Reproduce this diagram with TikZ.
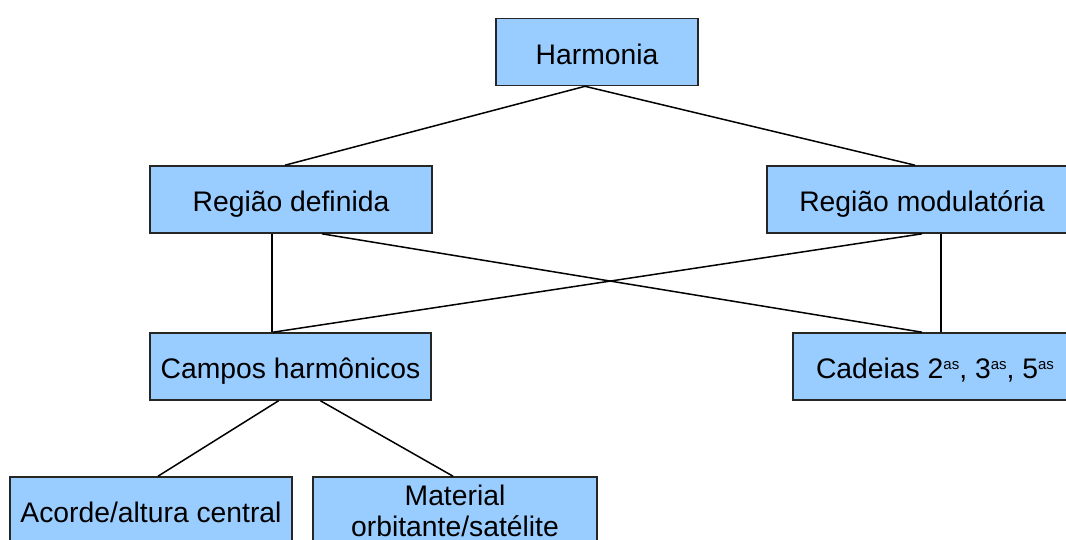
\documentclass[tikz,border=0pt]{standalone}
\usepackage{fontspec}
\setmainfont{Liberation Sans}
\usetikzlibrary{calc}
\definecolor{boxblue}{HTML}{99CCFF}
\newcommand{\supas}{\raisebox{9pt}{\fontsize{15}{15}\selectfont as}}
\begin{document}
\begin{tikzpicture}[x=1pt,y=-1pt,
  boxbase/.style={draw=black!85,line width=1.6pt,fill=boxblue,inner sep=0pt,
    font=\fontsize{28.3}{33}\selectfont,align=center,minimum height=67pt},
  box/.style={boxbase,text height=30pt,text depth=6pt},
  conn/.style={draw=black,line width=1.5pt}]
\useasboundingbox (0,0) rectangle (1066,539);
\clip (0,0) rectangle (1066,539);
\node[box,minimum width=202pt] (h) at (597,52) {Harmonia};
\node[box,minimum width=282pt] (rd) at (291,199.5) {Região definida};
\node[box,minimum width=310pt] (rm) at (922,199.5) {Região modulatória};
\node[box,minimum width=281pt] (cp) at (290.5,366.5) {Campos harmônicos};
\node[box,minimum width=284pt] (cd) at (935,366.5) {Cadeias 2\supas, 3\supas, 5\supas};
\node[box,minimum width=282pt] (ac) at (151,510.5) {Acorde/altura central};
\node[boxbase,minimum width=284pt] (mo) at (455,510.5) {Material\\[-2pt]orbitante/satélite};
\draw[conn] ($(h.south)+(-12,0)$) -- ($(rd.north)+(-6,0)$);
\draw[conn] ($(h.south)+(-12,0)$) -- ($(rm.north)+(-7,0)$);
\draw[conn] ($(rd.south)+(-19,0)$) -- ($(cp.north)+(-18.5,0)$);
\draw[conn] ($(rd.south)+(31,0)$) -- ($(cd.north)+(-13,0)$);
\draw[conn] ($(rm.south)+(0,0)$) -- ($(cp.north)+(-17.5,0)$);
\draw[conn] ($(rm.south)+(19,0)$) -- ($(cd.north)+(6,0)$);
\draw[conn] ($(cp.south)+(-12,0)$) -- ($(ac.north)+(7,0)$);
\draw[conn] ($(cp.south)+(30,0)$) -- ($(mo.north)+(-2,0)$);
\end{tikzpicture}
\end{document}
